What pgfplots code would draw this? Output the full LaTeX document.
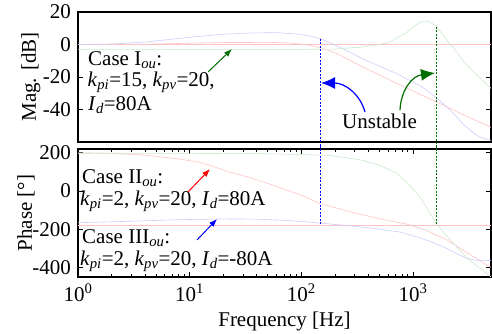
\documentclass[border=0pt]{standalone}
\usepackage{fontspec}
\setmainfont{Liberation Serif}
\usepackage{pgfplots}
\pgfplotsset{compat=1.18}
\usetikzlibrary{arrows.meta}
\definecolor{pinkc}{RGB}{255,195,195}
\definecolor{bluec}{RGB}{205,205,255}
\definecolor{greenc}{RGB}{205,232,205}
\definecolor{dgreen}{RGB}{0,110,0}
\newcommand{\ks}[2]{\textit{#1}\textsubscript{\textit{#2}}}
\begin{document}
\fontsize{21}{25}\selectfont
\begin{tikzpicture}
\path[use as bounding box] (0,0) rectangle (492pt,333pt);
% ---------- magnitude ----------
\begin{axis}[scale only axis, width=413pt, height=130pt, anchor=south west, at={(78pt,191pt)},
  xmode=log, xmin=1, xmax=5000, clip=false,
  axis line style={line width=1.1pt},
  major tick length=5pt, minor tick length=3pt,
  tick style={black, line width=0.8pt},
  tick align=inside,
  ymin=-60, ymax=20,
  ytick={-40,-20,0,20}, yticklabels={-40,-20,0,20},
  xtick=\empty, xminorticks=false,
  ylabel={Mag. [dB]},
  ylabel style={at={(axis description cs:-0.114,0.5)}, anchor=center},
]
\addplot[line width=0.6pt, no marks, pinkc] coordinates {(1,0) (5000,0)};
% Case II (red)
\addplot[line width=0.6pt, no marks, pinkc] coordinates {
(1,0) (5,0.3) (10,0.8) (20,1.2) (50,1.3) (80,1.0) (120,-0.5) (148,-2) (200,-5)
(359,-14) (720,-24) (1640,-35.5) (3000,-44) (5000,-51)};
% Case III (blue)
\addplot[line width=0.6pt, no marks, bluec] coordinates {
(1,0) (2,0.3) (4,1.5) (7,3.3) (12,5) (20,6.3) (35,7.1) (60,7.3) (90,6.5) (120,5.2)
(148,3.5) (190,0.5) (250,-3.5) (359,-9) (720,-18) (1200,-26) (1640,-33) (2200,-41)
(2820,-49) (3500,-54.5) (3980,-57) (5000,-59)};
% Case I (green)
\addplot[line width=0.6pt, no marks, greenc] coordinates {
(1,-3) (10,-3) (100,-3) (200,-2.8) (355,-1.5) (450,-0.5) (590,1) (700,3.5) (880,7.5)
(1000,10.5) (1100,12.8) (1200,14.2) (1300,14.4) (1400,14) (1500,12.8) (1640,11)
(1800,7) (2140,0.5) (2500,-5) (2800,-10) (3500,-17) (4200,-22) (5000,-27)};
% dashed markers
\addplot[no marks, blue, line width=1pt, dash pattern=on 2pt off 1.5pt] coordinates {(148,3.5) (148,-64)};
\addplot[no marks, dgreen, line width=1pt, dash pattern=on 2pt off 1.5pt] coordinates {(1640,11) (1640,-64)};
\end{axis}
% ---------- phase ----------
\begin{axis}[scale only axis, width=413pt, height=128pt, anchor=south west, at={(78pt,56pt)},
  xmode=log, xmin=1, xmax=5000, clip=false,
  axis line style={line width=1.1pt},
  major tick length=5pt, minor tick length=3pt,
  tick style={black, line width=0.8pt},
  tick align=inside,
  ymin=-450, ymax=220,
  ytick={-400,-200,0,200}, yticklabels={-400,-200,0,200},
  xtick={1,10,100,1000},
  xticklabels={10\textsuperscript{0},10\textsuperscript{1},10\textsuperscript{2},10\textsuperscript{3}},
  xtick pos=both,
  xlabel={Frequency [Hz]},
  ylabel={Phase [\textdegree]},
  ylabel style={at={(axis description cs:-0.126,0.5)}, anchor=center},
  xlabel style={yshift=4pt},
]
\addplot[line width=0.6pt, no marks, pinkc] coordinates {(1,-180) (5000,-180)};
% Case II (red)
\addplot[line width=0.6pt, no marks, pinkc] coordinates {
(1,200) (2,197) (4,188) (8,168) (12,152) (16,130) (22.6,100) (35,70) (50,40) (100,-22)
(145,-64) (300,-115) (500,-145) (880,-173) (1300,-205) (2000,-255) (3000,-320) (5000,-400)};
% Case III (blue)
\addplot[line width=0.6pt, no marks, bluec] coordinates {
(1,-166) (3,-158) (8,-150) (20,-146) (40,-147) (80,-155) (148,-168) (250,-180)
(400,-192) (770,-215) (1200,-248) (1520,-270) (2000,-300) (2500,-330) (3030,-352)
(3600,-362) (5000,-364)};
% Case I (green)
\addplot[line width=0.6pt, no marks, greenc] coordinates {
(1,198) (10,197) (50,195) (178,187) (355,161) (500,135) (710,94) (900,40) (1150,-30)
(1400,-110) (1640,-177) (2150,-255) (3030,-349) (5000,-450)};
\addplot[no marks, blue, line width=1pt, dash pattern=on 2pt off 1.5pt] coordinates {(148,240) (148,-180)};
\addplot[no marks, dgreen, line width=1pt, dash pattern=on 2pt off 1.5pt] coordinates {(1640,240) (1640,-180)};
\end{axis}
% ---------- annotations (image pixel coordinates) ----------
\begin{scope}[x=1pt, y=-1pt, yshift=333pt]
\node[anchor=base west, inner sep=0] at (88,65) {Case I\textsubscript{\textit{ou}}:};
\node[anchor=base west, inner sep=0] at (87.5,86) {\ks{k}{pi}=15, \ks{k}{pv}=20,};
\node[anchor=base west, inner sep=0] at (88,110) {\ks{I}{d}=80A};
\node[anchor=base west, inner sep=0] at (82,183) {Case II\textsubscript{\textit{ou}}:};
\node[anchor=base west, inner sep=0] at (80,205) {\ks{k}{pi}=2, \ks{k}{pv}=20, \ks{I}{d}=80A};
\node[anchor=base west, inner sep=0] at (82,243) {Case III\textsubscript{\textit{ou}}:};
\node[anchor=base west, inner sep=0] at (80,265) {\ks{k}{pi}=2, \ks{k}{pv}=20, \ks{I}{d}=-80A};
\node[anchor=base west, inner sep=0] at (342,128) {Unstable};
\draw[dgreen, line width=1pt, -{Latex[length=8pt,width=6pt]}] (208,72) -- (232,49);
\draw[red, line width=1pt, -{Latex[length=8pt,width=6pt]}] (188,192) -- (210,169);
\draw[blue, line width=1pt, -{Latex[length=8pt,width=6pt]}] (197,240) -- (217,219);
\draw[blue, line width=1.2pt, -{Latex[length=14pt,width=12pt]}] (365,112) .. controls (360,94) and (345,83) .. (321,83);
\draw[dgreen, line width=1.2pt, -{Latex[length=14pt,width=12pt]}] (400,110) .. controls (401,90) and (412,76) .. (435,73);
\end{scope}
\end{tikzpicture}
\end{document}
